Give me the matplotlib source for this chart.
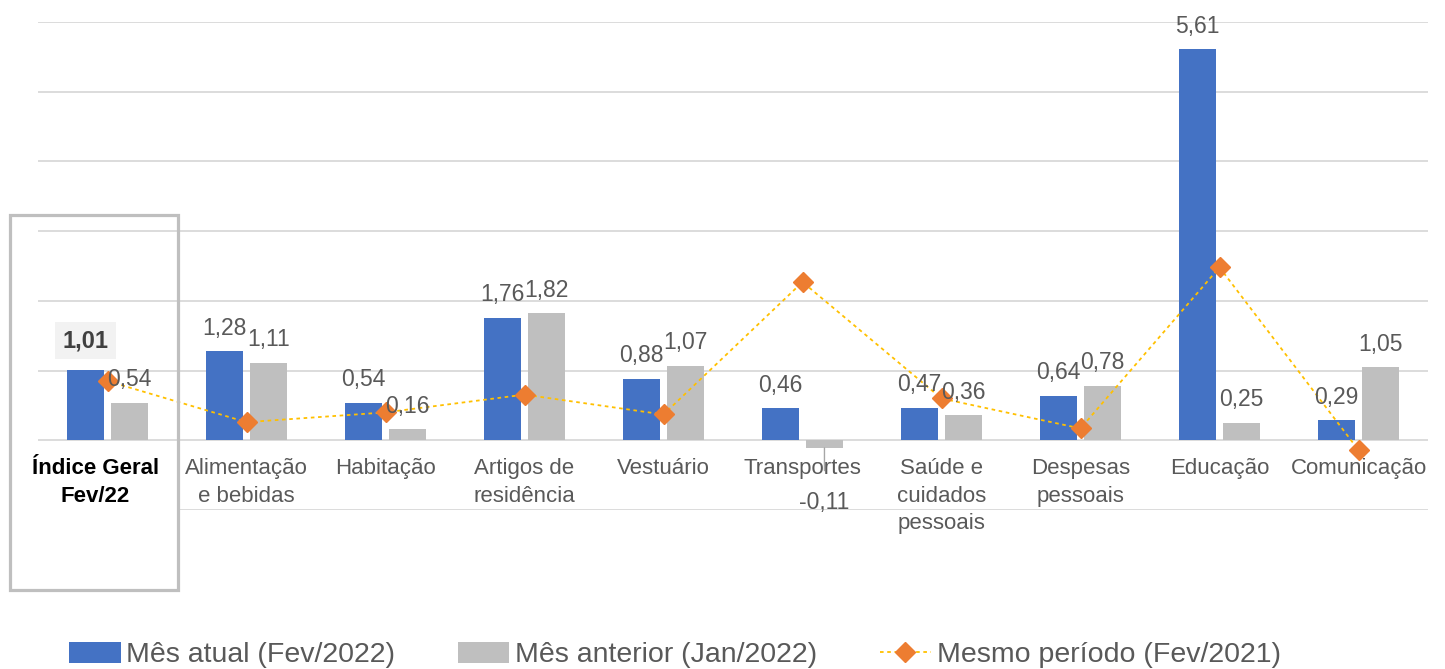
import numpy as np
import matplotlib.pyplot as plt
from matplotlib.patches import Rectangle

categorias = ["Índice Geral\nFev/22", "Alimentação\ne bebidas", "Habitação",
              "Artigos de\nresidência", "Vestuário", "Transportes",
              "Saúde e\ncuidados\npessoais", "Despesas\npessoais", "Educação",
              "Comunicação"]
mes_atual = [1.01, 1.28, 0.54, 1.76, 0.88, 0.46, 0.47, 0.64, 5.61, 0.29]
mes_anterior = [0.54, 1.11, 0.16, 1.82, 1.07, -0.11, 0.36, 0.78, 0.25, 1.05]
mesmo_periodo = [0.85, 0.26, 0.40, 0.655, 0.37, 2.27, 0.60, 0.17, 2.48, -0.14]

plt.rcParams['font.family'] = ['Liberation Sans', 'DejaVu Sans']
cinza_txt = '#595959'

W, H = 1445, 669
fig = plt.figure(figsize=(W / 100, H / 100), dpi=100)
ax = fig.add_axes([38 / W, (H - 510) / H, 1390 / W, 488 / H])

x = np.arange(len(categorias))
bw = 0.266
off = 0.158
b1 = ax.bar(x - off, mes_atual, bw, color='#4472C4', zorder=2, label='Mês atual (Fev/2022)')
b2 = ax.bar(x + off, mes_anterior, bw, color='#BFBFBF', zorder=2, label='Mês anterior (Jan/2022)')
l1, = ax.plot(x, mesmo_periodo, color='#FFC000', lw=1.3, ls=(0, (2, 2)), marker='D',
              markersize=10, markerfacecolor='#ED7D31', markeredgecolor='#ED7D31',
              zorder=3, label='Mesmo período (Fev/2021)')

ax.set_xlim(-0.5, len(categorias) - 0.5)
ax.set_ylim(-1, 6)
for gy in range(0, 7):
    ax.axhline(gy, color='#D9D9D9', lw=1.3, zorder=1)
ax.hlines(-1, 0.5, len(categorias) - 0.5, color='#D9D9D9', lw=1.3, zorder=1)
ax.axis('off')

def fmt(v):
    return f"{v:.2f}".replace('.', ',')

# rotulos dos dados
for i, v in enumerate(mes_atual):
    if i == 0:
        ax.annotate(fmt(v), (i - off, v), xytext=(0, 29), textcoords='offset pixels',
                    ha='center', va='center', fontsize=17, fontweight='bold', color='#404040',
                    bbox=dict(boxstyle='square,pad=0.3', fc='#F2F2F2', ec='none'))
    else:
        ax.annotate(fmt(v), (i - off, v), xytext=(0, 23), textcoords='offset pixels',
                    ha='center', va='center', fontsize=16.5, color=cinza_txt)
for i, v in enumerate(mes_anterior):
    if v < 0:
        ax.annotate(fmt(v), (i + off, v), xytext=(0, -55), textcoords='offset pixels',
                    ha='center', va='center', fontsize=16.5, color=cinza_txt,
                    arrowprops=dict(arrowstyle='-', color='#A6A6A6', lw=1,
                                    shrinkA=13, shrinkB=0))
    else:
        ax.annotate(fmt(v), (i + off, v), xytext=(0, 23), textcoords='offset pixels',
                    ha='center', va='center', fontsize=16.5, color=cinza_txt)

# rotulos das categorias
for i, c in enumerate(categorias):
    if i == 0:
        ax.annotate(c, (i, 0), xytext=(-12, -18), textcoords='offset pixels',
                    ha='center', va='top', fontsize=16, fontweight='bold', color='black',
                    linespacing=1.4)
    else:
        ax.annotate(c, (i, 0), xytext=(0, -18), textcoords='offset pixels',
                    ha='center', va='top', fontsize=16, color=cinza_txt,
                    linespacing=1.4)

# caixa do indice geral
fig.patches.append(Rectangle((10 / W, (H - 590) / H), 168 / W, 375 / H,
                             transform=fig.transFigure, fill=False,
                             ec='#BFBFBF', lw=2.3))

fig.legend([b1, b2, l1], [b1.get_label(), b2.get_label(), l1.get_label()],
           loc='center', bbox_to_anchor=(675 / W, 14 / H), ncol=3, frameon=False,
           fontsize=20.5, labelcolor=cinza_txt, handlelength=1.8, handleheight=0.8,
           columnspacing=2.2, handletextpad=0.2, borderaxespad=0)

fig.savefig('out.png', dpi=100)
